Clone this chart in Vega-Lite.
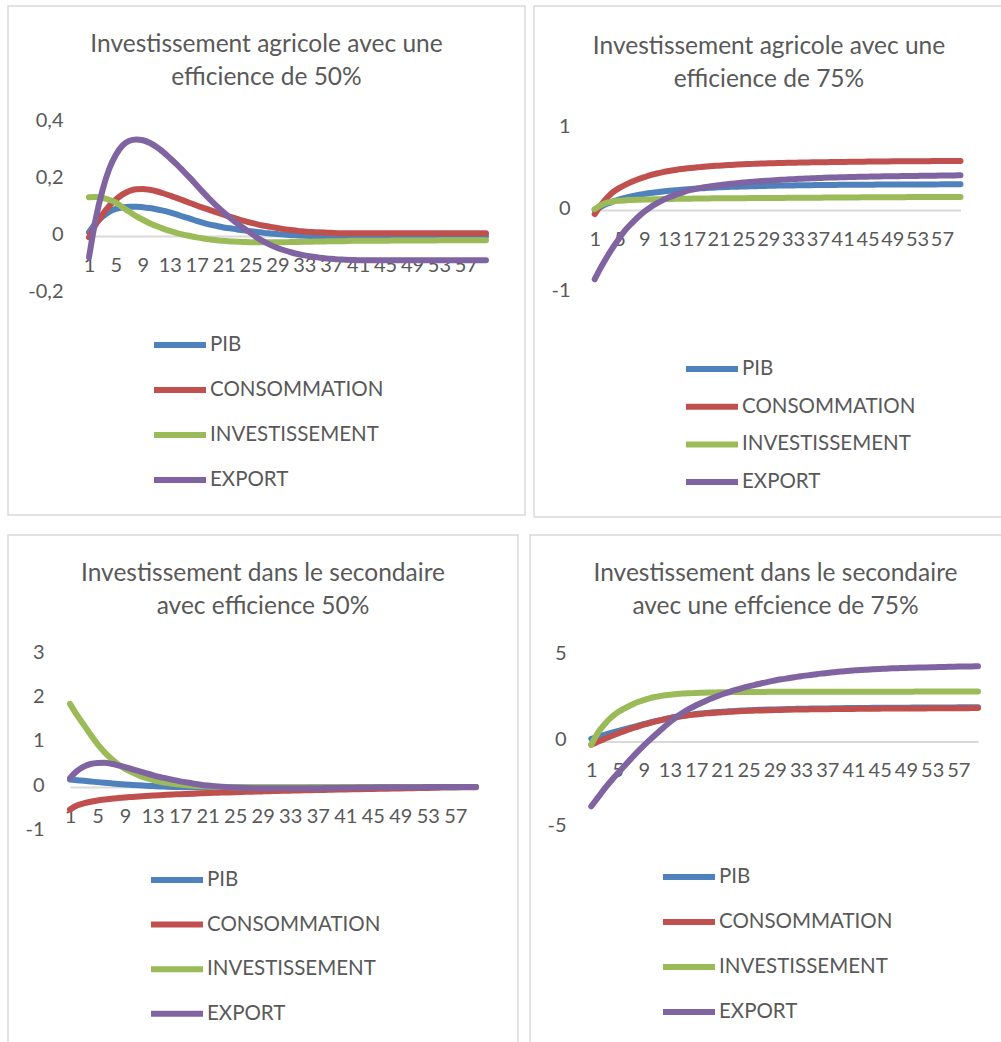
{
"$schema":"https://vega.github.io/schema/vega-lite/v6.json",
"padding":{"left":7,"top":5,"right":0,"bottom":0},
"background":"white",
"datasets":{
"p1":[
{"t":1,"PIB":0.013,"CONSOMMATION":-0.005,"INVESTISSEMENT":0.136,"EXPORT":-0.075},
{"t":2,"PIB":0.045,"CONSOMMATION":0.04,"INVESTISSEMENT":0.137,"EXPORT":0.06},
{"t":3,"PIB":0.068,"CONSOMMATION":0.075,"INVESTISSEMENT":0.134,"EXPORT":0.16},
{"t":4,"PIB":0.085,"CONSOMMATION":0.105,"INVESTISSEMENT":0.127,"EXPORT":0.235},
{"t":5,"PIB":0.095,"CONSOMMATION":0.128,"INVESTISSEMENT":0.117,"EXPORT":0.285},
{"t":6,"PIB":0.101,"CONSOMMATION":0.146,"INVESTISSEMENT":0.1,"EXPORT":0.318},
{"t":7,"PIB":0.103,"CONSOMMATION":0.158,"INVESTISSEMENT":0.085,"EXPORT":0.334},
{"t":8,"PIB":0.103,"CONSOMMATION":0.164,"INVESTISSEMENT":0.07,"EXPORT":0.339},
{"t":9,"PIB":0.101,"CONSOMMATION":0.165,"INVESTISSEMENT":0.057,"EXPORT":0.336},
{"t":10,"PIB":0.098,"CONSOMMATION":0.162,"INVESTISSEMENT":0.045,"EXPORT":0.327},
{"t":11,"PIB":0.094,"CONSOMMATION":0.157,"INVESTISSEMENT":0.035,"EXPORT":0.313},
{"t":12,"PIB":0.089,"CONSOMMATION":0.15,"INVESTISSEMENT":0.026,"EXPORT":0.295},
{"t":13,"PIB":0.083,"CONSOMMATION":0.142,"INVESTISSEMENT":0.018,"EXPORT":0.274},
{"t":14,"PIB":0.076,"CONSOMMATION":0.134,"INVESTISSEMENT":0.011,"EXPORT":0.252},
{"t":15,"PIB":0.068,"CONSOMMATION":0.125,"INVESTISSEMENT":0.005,"EXPORT":0.228},
{"t":16,"PIB":0.061,"CONSOMMATION":0.116,"INVESTISSEMENT":0.0,"EXPORT":0.204},
{"t":17,"PIB":0.053,"CONSOMMATION":0.107,"INVESTISSEMENT":-0.005,"EXPORT":0.178},
{"t":18,"PIB":0.046,"CONSOMMATION":0.099,"INVESTISSEMENT":-0.009,"EXPORT":0.152},
{"t":19,"PIB":0.04,"CONSOMMATION":0.091,"INVESTISSEMENT":-0.012,"EXPORT":0.128},
{"t":20,"PIB":0.035,"CONSOMMATION":0.083,"INVESTISSEMENT":-0.015,"EXPORT":0.105},
{"t":21,"PIB":0.03,"CONSOMMATION":0.075,"INVESTISSEMENT":-0.017,"EXPORT":0.083},
{"t":22,"PIB":0.027,"CONSOMMATION":0.067,"INVESTISSEMENT":-0.019,"EXPORT":0.063},
{"t":23,"PIB":0.023,"CONSOMMATION":0.06,"INVESTISSEMENT":-0.02,"EXPORT":0.044},
{"t":24,"PIB":0.02,"CONSOMMATION":0.053,"INVESTISSEMENT":-0.021,"EXPORT":0.027},
{"t":25,"PIB":0.017,"CONSOMMATION":0.047,"INVESTISSEMENT":-0.022,"EXPORT":0.011},
{"t":26,"PIB":0.014,"CONSOMMATION":0.041,"INVESTISSEMENT":-0.022,"EXPORT":-0.006},
{"t":27,"PIB":0.011,"CONSOMMATION":0.036,"INVESTISSEMENT":-0.022,"EXPORT":-0.02},
{"t":28,"PIB":0.009,"CONSOMMATION":0.032,"INVESTISSEMENT":-0.022,"EXPORT":-0.032},
{"t":29,"PIB":0.007,"CONSOMMATION":0.028,"INVESTISSEMENT":-0.022,"EXPORT":-0.042},
{"t":30,"PIB":0.005,"CONSOMMATION":0.024,"INVESTISSEMENT":-0.022,"EXPORT":-0.05},
{"t":31,"PIB":0.003,"CONSOMMATION":0.021,"INVESTISSEMENT":-0.021,"EXPORT":-0.057},
{"t":32,"PIB":0.002,"CONSOMMATION":0.018,"INVESTISSEMENT":-0.021,"EXPORT":-0.063},
{"t":33,"PIB":0.001,"CONSOMMATION":0.016,"INVESTISSEMENT":-0.02,"EXPORT":-0.068},
{"t":34,"PIB":0.0,"CONSOMMATION":0.014,"INVESTISSEMENT":-0.02,"EXPORT":-0.072},
{"t":35,"PIB":-0.001,"CONSOMMATION":0.013,"INVESTISSEMENT":-0.019,"EXPORT":-0.075},
{"t":36,"PIB":-0.002,"CONSOMMATION":0.012,"INVESTISSEMENT":-0.019,"EXPORT":-0.078},
{"t":37,"PIB":-0.002,"CONSOMMATION":0.011,"INVESTISSEMENT":-0.018,"EXPORT":-0.08},
{"t":38,"PIB":-0.002,"CONSOMMATION":0.01,"INVESTISSEMENT":-0.018,"EXPORT":-0.082},
{"t":39,"PIB":-0.002,"CONSOMMATION":0.01,"INVESTISSEMENT":-0.018,"EXPORT":-0.083},
{"t":40,"PIB":-0.002,"CONSOMMATION":0.01,"INVESTISSEMENT":-0.017,"EXPORT":-0.084},
{"t":41,"PIB":-0.002,"CONSOMMATION":0.01,"INVESTISSEMENT":-0.017,"EXPORT":-0.085},
{"t":42,"PIB":-0.002,"CONSOMMATION":0.01,"INVESTISSEMENT":-0.017,"EXPORT":-0.085},
{"t":43,"PIB":-0.002,"CONSOMMATION":0.01,"INVESTISSEMENT":-0.017,"EXPORT":-0.085},
{"t":44,"PIB":-0.002,"CONSOMMATION":0.01,"INVESTISSEMENT":-0.017,"EXPORT":-0.085},
{"t":45,"PIB":-0.002,"CONSOMMATION":0.01,"INVESTISSEMENT":-0.017,"EXPORT":-0.085},
{"t":46,"PIB":-0.001,"CONSOMMATION":0.01,"INVESTISSEMENT":-0.016,"EXPORT":-0.085},
{"t":47,"PIB":-0.001,"CONSOMMATION":0.01,"INVESTISSEMENT":-0.016,"EXPORT":-0.085},
{"t":48,"PIB":-0.001,"CONSOMMATION":0.01,"INVESTISSEMENT":-0.016,"EXPORT":-0.085},
{"t":49,"PIB":-0.001,"CONSOMMATION":0.01,"INVESTISSEMENT":-0.016,"EXPORT":-0.085},
{"t":50,"PIB":-0.001,"CONSOMMATION":0.01,"INVESTISSEMENT":-0.016,"EXPORT":-0.085},
{"t":51,"PIB":-0.001,"CONSOMMATION":0.01,"INVESTISSEMENT":-0.016,"EXPORT":-0.085},
{"t":52,"PIB":-0.001,"CONSOMMATION":0.01,"INVESTISSEMENT":-0.016,"EXPORT":-0.085},
{"t":53,"PIB":-0.001,"CONSOMMATION":0.01,"INVESTISSEMENT":-0.015,"EXPORT":-0.085},
{"t":54,"PIB":-0.001,"CONSOMMATION":0.01,"INVESTISSEMENT":-0.015,"EXPORT":-0.085},
{"t":55,"PIB":-0.001,"CONSOMMATION":0.01,"INVESTISSEMENT":-0.015,"EXPORT":-0.085},
{"t":56,"PIB":-0.001,"CONSOMMATION":0.01,"INVESTISSEMENT":-0.015,"EXPORT":-0.085},
{"t":57,"PIB":-0.001,"CONSOMMATION":0.01,"INVESTISSEMENT":-0.015,"EXPORT":-0.085},
{"t":58,"PIB":-0.001,"CONSOMMATION":0.01,"INVESTISSEMENT":-0.015,"EXPORT":-0.085},
{"t":59,"PIB":-0.001,"CONSOMMATION":0.01,"INVESTISSEMENT":-0.015,"EXPORT":-0.085},
{"t":60,"PIB":-0.001,"CONSOMMATION":0.01,"INVESTISSEMENT":-0.015,"EXPORT":-0.085}
],
"p2":[
{"t":1,"PIB":0.0,"CONSOMMATION":-0.05,"INVESTISSEMENT":0.01,"EXPORT":-0.845},
{"t":2,"PIB":0.04,"CONSOMMATION":0.06,"INVESTISSEMENT":0.06,"EXPORT":-0.7},
{"t":3,"PIB":0.075,"CONSOMMATION":0.15,"INVESTISSEMENT":0.09,"EXPORT":-0.57},
{"t":4,"PIB":0.105,"CONSOMMATION":0.22,"INVESTISSEMENT":0.105,"EXPORT":-0.45},
{"t":5,"PIB":0.13,"CONSOMMATION":0.27,"INVESTISSEMENT":0.113,"EXPORT":-0.34},
{"t":6,"PIB":0.15,"CONSOMMATION":0.31,"INVESTISSEMENT":0.118,"EXPORT":-0.24},
{"t":7,"PIB":0.168,"CONSOMMATION":0.345,"INVESTISSEMENT":0.122,"EXPORT":-0.16},
{"t":8,"PIB":0.183,"CONSOMMATION":0.375,"INVESTISSEMENT":0.125,"EXPORT":-0.085},
{"t":9,"PIB":0.196,"CONSOMMATION":0.4,"INVESTISSEMENT":0.127,"EXPORT":-0.02},
{"t":10,"PIB":0.207,"CONSOMMATION":0.425,"INVESTISSEMENT":0.129,"EXPORT":0.035},
{"t":11,"PIB":0.217,"CONSOMMATION":0.445,"INVESTISSEMENT":0.131,"EXPORT":0.08},
{"t":12,"PIB":0.226,"CONSOMMATION":0.462,"INVESTISSEMENT":0.133,"EXPORT":0.12},
{"t":13,"PIB":0.234,"CONSOMMATION":0.476,"INVESTISSEMENT":0.135,"EXPORT":0.155},
{"t":14,"PIB":0.241,"CONSOMMATION":0.488,"INVESTISSEMENT":0.136,"EXPORT":0.185},
{"t":15,"PIB":0.248,"CONSOMMATION":0.499,"INVESTISSEMENT":0.137,"EXPORT":0.21},
{"t":16,"PIB":0.254,"CONSOMMATION":0.508,"INVESTISSEMENT":0.138,"EXPORT":0.235},
{"t":17,"PIB":0.259,"CONSOMMATION":0.516,"INVESTISSEMENT":0.139,"EXPORT":0.252},
{"t":18,"PIB":0.264,"CONSOMMATION":0.523,"INVESTISSEMENT":0.14,"EXPORT":0.267},
{"t":19,"PIB":0.268,"CONSOMMATION":0.53,"INVESTISSEMENT":0.141,"EXPORT":0.28},
{"t":20,"PIB":0.272,"CONSOMMATION":0.536,"INVESTISSEMENT":0.142,"EXPORT":0.292},
{"t":21,"PIB":0.276,"CONSOMMATION":0.541,"INVESTISSEMENT":0.142,"EXPORT":0.302},
{"t":22,"PIB":0.279,"CONSOMMATION":0.546,"INVESTISSEMENT":0.143,"EXPORT":0.311},
{"t":23,"PIB":0.282,"CONSOMMATION":0.55,"INVESTISSEMENT":0.143,"EXPORT":0.319},
{"t":24,"PIB":0.285,"CONSOMMATION":0.554,"INVESTISSEMENT":0.144,"EXPORT":0.327},
{"t":25,"PIB":0.287,"CONSOMMATION":0.558,"INVESTISSEMENT":0.144,"EXPORT":0.334},
{"t":26,"PIB":0.289,"CONSOMMATION":0.561,"INVESTISSEMENT":0.145,"EXPORT":0.341},
{"t":27,"PIB":0.291,"CONSOMMATION":0.564,"INVESTISSEMENT":0.145,"EXPORT":0.347},
{"t":28,"PIB":0.293,"CONSOMMATION":0.567,"INVESTISSEMENT":0.146,"EXPORT":0.353},
{"t":29,"PIB":0.295,"CONSOMMATION":0.569,"INVESTISSEMENT":0.146,"EXPORT":0.358},
{"t":30,"PIB":0.297,"CONSOMMATION":0.571,"INVESTISSEMENT":0.147,"EXPORT":0.363},
{"t":31,"PIB":0.298,"CONSOMMATION":0.573,"INVESTISSEMENT":0.147,"EXPORT":0.368},
{"t":32,"PIB":0.299,"CONSOMMATION":0.575,"INVESTISSEMENT":0.148,"EXPORT":0.372},
{"t":33,"PIB":0.3,"CONSOMMATION":0.577,"INVESTISSEMENT":0.148,"EXPORT":0.376},
{"t":34,"PIB":0.301,"CONSOMMATION":0.578,"INVESTISSEMENT":0.149,"EXPORT":0.38},
{"t":35,"PIB":0.302,"CONSOMMATION":0.58,"INVESTISSEMENT":0.149,"EXPORT":0.383},
{"t":36,"PIB":0.303,"CONSOMMATION":0.581,"INVESTISSEMENT":0.15,"EXPORT":0.386},
{"t":37,"PIB":0.304,"CONSOMMATION":0.582,"INVESTISSEMENT":0.15,"EXPORT":0.389},
{"t":38,"PIB":0.305,"CONSOMMATION":0.583,"INVESTISSEMENT":0.151,"EXPORT":0.392},
{"t":39,"PIB":0.305,"CONSOMMATION":0.584,"INVESTISSEMENT":0.151,"EXPORT":0.395},
{"t":40,"PIB":0.306,"CONSOMMATION":0.585,"INVESTISSEMENT":0.152,"EXPORT":0.397},
{"t":41,"PIB":0.307,"CONSOMMATION":0.586,"INVESTISSEMENT":0.152,"EXPORT":0.399},
{"t":42,"PIB":0.307,"CONSOMMATION":0.587,"INVESTISSEMENT":0.153,"EXPORT":0.401},
{"t":43,"PIB":0.308,"CONSOMMATION":0.588,"INVESTISSEMENT":0.153,"EXPORT":0.403},
{"t":44,"PIB":0.308,"CONSOMMATION":0.589,"INVESTISSEMENT":0.154,"EXPORT":0.405},
{"t":45,"PIB":0.309,"CONSOMMATION":0.59,"INVESTISSEMENT":0.154,"EXPORT":0.407},
{"t":46,"PIB":0.309,"CONSOMMATION":0.591,"INVESTISSEMENT":0.155,"EXPORT":0.408},
{"t":47,"PIB":0.31,"CONSOMMATION":0.591,"INVESTISSEMENT":0.155,"EXPORT":0.41},
{"t":48,"PIB":0.31,"CONSOMMATION":0.592,"INVESTISSEMENT":0.156,"EXPORT":0.411},
{"t":49,"PIB":0.31,"CONSOMMATION":0.593,"INVESTISSEMENT":0.156,"EXPORT":0.412},
{"t":50,"PIB":0.311,"CONSOMMATION":0.593,"INVESTISSEMENT":0.157,"EXPORT":0.413},
{"t":51,"PIB":0.311,"CONSOMMATION":0.594,"INVESTISSEMENT":0.157,"EXPORT":0.414},
{"t":52,"PIB":0.311,"CONSOMMATION":0.594,"INVESTISSEMENT":0.158,"EXPORT":0.415},
{"t":53,"PIB":0.312,"CONSOMMATION":0.595,"INVESTISSEMENT":0.158,"EXPORT":0.416},
{"t":54,"PIB":0.312,"CONSOMMATION":0.596,"INVESTISSEMENT":0.158,"EXPORT":0.417},
{"t":55,"PIB":0.312,"CONSOMMATION":0.596,"INVESTISSEMENT":0.159,"EXPORT":0.418},
{"t":56,"PIB":0.312,"CONSOMMATION":0.597,"INVESTISSEMENT":0.159,"EXPORT":0.419},
{"t":57,"PIB":0.313,"CONSOMMATION":0.597,"INVESTISSEMENT":0.159,"EXPORT":0.42},
{"t":58,"PIB":0.313,"CONSOMMATION":0.598,"INVESTISSEMENT":0.16,"EXPORT":0.421},
{"t":59,"PIB":0.313,"CONSOMMATION":0.598,"INVESTISSEMENT":0.16,"EXPORT":0.422},
{"t":60,"PIB":0.313,"CONSOMMATION":0.599,"INVESTISSEMENT":0.16,"EXPORT":0.423}
],
"p3":[
{"t":1,"PIB":0.17,"CONSOMMATION":-0.51,"INVESTISSEMENT":1.88,"EXPORT":0.2},
{"t":2,"PIB":0.155,"CONSOMMATION":-0.42,"INVESTISSEMENT":1.63,"EXPORT":0.36},
{"t":3,"PIB":0.14,"CONSOMMATION":-0.37,"INVESTISSEMENT":1.41,"EXPORT":0.46},
{"t":4,"PIB":0.125,"CONSOMMATION":-0.335,"INVESTISSEMENT":1.18,"EXPORT":0.52},
{"t":5,"PIB":0.11,"CONSOMMATION":-0.305,"INVESTISSEMENT":0.97,"EXPORT":0.545},
{"t":6,"PIB":0.096,"CONSOMMATION":-0.283,"INVESTISSEMENT":0.79,"EXPORT":0.55},
{"t":7,"PIB":0.083,"CONSOMMATION":-0.265,"INVESTISSEMENT":0.64,"EXPORT":0.525},
{"t":8,"PIB":0.07,"CONSOMMATION":-0.25,"INVESTISSEMENT":0.51,"EXPORT":0.49},
{"t":9,"PIB":0.058,"CONSOMMATION":-0.236,"INVESTISSEMENT":0.41,"EXPORT":0.45},
{"t":10,"PIB":0.047,"CONSOMMATION":-0.224,"INVESTISSEMENT":0.33,"EXPORT":0.405},
{"t":11,"PIB":0.037,"CONSOMMATION":-0.213,"INVESTISSEMENT":0.26,"EXPORT":0.36},
{"t":12,"PIB":0.028,"CONSOMMATION":-0.203,"INVESTISSEMENT":0.205,"EXPORT":0.315},
{"t":13,"PIB":0.02,"CONSOMMATION":-0.194,"INVESTISSEMENT":0.16,"EXPORT":0.27},
{"t":14,"PIB":0.013,"CONSOMMATION":-0.185,"INVESTISSEMENT":0.125,"EXPORT":0.23},
{"t":15,"PIB":0.007,"CONSOMMATION":-0.177,"INVESTISSEMENT":0.095,"EXPORT":0.195},
{"t":16,"PIB":0.002,"CONSOMMATION":-0.17,"INVESTISSEMENT":0.072,"EXPORT":0.16},
{"t":17,"PIB":-0.002,"CONSOMMATION":-0.163,"INVESTISSEMENT":0.054,"EXPORT":0.128},
{"t":18,"PIB":-0.005,"CONSOMMATION":-0.156,"INVESTISSEMENT":0.04,"EXPORT":0.1},
{"t":19,"PIB":-0.008,"CONSOMMATION":-0.15,"INVESTISSEMENT":0.028,"EXPORT":0.075},
{"t":20,"PIB":-0.01,"CONSOMMATION":-0.144,"INVESTISSEMENT":0.019,"EXPORT":0.053},
{"t":21,"PIB":-0.011,"CONSOMMATION":-0.138,"INVESTISSEMENT":0.012,"EXPORT":0.035},
{"t":22,"PIB":-0.012,"CONSOMMATION":-0.132,"INVESTISSEMENT":0.006,"EXPORT":0.02},
{"t":23,"PIB":-0.012,"CONSOMMATION":-0.127,"INVESTISSEMENT":0.002,"EXPORT":0.007},
{"t":24,"PIB":-0.012,"CONSOMMATION":-0.122,"INVESTISSEMENT":-0.001,"EXPORT":-0.003},
{"t":25,"PIB":-0.012,"CONSOMMATION":-0.117,"INVESTISSEMENT":-0.003,"EXPORT":-0.012},
{"t":26,"PIB":-0.012,"CONSOMMATION":-0.112,"INVESTISSEMENT":-0.004,"EXPORT":-0.018},
{"t":27,"PIB":-0.012,"CONSOMMATION":-0.108,"INVESTISSEMENT":-0.004,"EXPORT":-0.023},
{"t":28,"PIB":-0.012,"CONSOMMATION":-0.103,"INVESTISSEMENT":-0.004,"EXPORT":-0.026},
{"t":29,"PIB":-0.011,"CONSOMMATION":-0.099,"INVESTISSEMENT":-0.004,"EXPORT":-0.028},
{"t":30,"PIB":-0.011,"CONSOMMATION":-0.095,"INVESTISSEMENT":-0.004,"EXPORT":-0.03},
{"t":31,"PIB":-0.011,"CONSOMMATION":-0.091,"INVESTISSEMENT":-0.004,"EXPORT":-0.03},
{"t":32,"PIB":-0.01,"CONSOMMATION":-0.087,"INVESTISSEMENT":-0.004,"EXPORT":-0.03},
{"t":33,"PIB":-0.01,"CONSOMMATION":-0.083,"INVESTISSEMENT":-0.004,"EXPORT":-0.03},
{"t":34,"PIB":-0.009,"CONSOMMATION":-0.079,"INVESTISSEMENT":-0.004,"EXPORT":-0.03},
{"t":35,"PIB":-0.009,"CONSOMMATION":-0.076,"INVESTISSEMENT":-0.004,"EXPORT":-0.03},
{"t":36,"PIB":-0.008,"CONSOMMATION":-0.072,"INVESTISSEMENT":-0.003,"EXPORT":-0.029},
{"t":37,"PIB":-0.008,"CONSOMMATION":-0.069,"INVESTISSEMENT":-0.003,"EXPORT":-0.027},
{"t":38,"PIB":-0.007,"CONSOMMATION":-0.066,"INVESTISSEMENT":-0.003,"EXPORT":-0.025},
{"t":39,"PIB":-0.007,"CONSOMMATION":-0.062,"INVESTISSEMENT":-0.003,"EXPORT":-0.022},
{"t":40,"PIB":-0.006,"CONSOMMATION":-0.059,"INVESTISSEMENT":-0.003,"EXPORT":-0.02},
{"t":41,"PIB":-0.006,"CONSOMMATION":-0.056,"INVESTISSEMENT":-0.002,"EXPORT":-0.018},
{"t":42,"PIB":-0.005,"CONSOMMATION":-0.053,"INVESTISSEMENT":-0.002,"EXPORT":-0.016},
{"t":43,"PIB":-0.005,"CONSOMMATION":-0.05,"INVESTISSEMENT":-0.002,"EXPORT":-0.014},
{"t":44,"PIB":-0.004,"CONSOMMATION":-0.047,"INVESTISSEMENT":-0.002,"EXPORT":-0.012},
{"t":45,"PIB":-0.004,"CONSOMMATION":-0.044,"INVESTISSEMENT":-0.002,"EXPORT":-0.01},
{"t":46,"PIB":-0.003,"CONSOMMATION":-0.041,"INVESTISSEMENT":-0.001,"EXPORT":-0.008},
{"t":47,"PIB":-0.003,"CONSOMMATION":-0.038,"INVESTISSEMENT":-0.001,"EXPORT":-0.007},
{"t":48,"PIB":-0.003,"CONSOMMATION":-0.035,"INVESTISSEMENT":-0.001,"EXPORT":-0.006},
{"t":49,"PIB":-0.002,"CONSOMMATION":-0.032,"INVESTISSEMENT":-0.001,"EXPORT":-0.005},
{"t":50,"PIB":-0.002,"CONSOMMATION":-0.029,"INVESTISSEMENT":-0.001,"EXPORT":-0.004},
{"t":51,"PIB":-0.002,"CONSOMMATION":-0.026,"INVESTISSEMENT":-0.001,"EXPORT":-0.003},
{"t":52,"PIB":-0.001,"CONSOMMATION":-0.023,"INVESTISSEMENT":0.0,"EXPORT":-0.003},
{"t":53,"PIB":-0.001,"CONSOMMATION":-0.02,"INVESTISSEMENT":0.0,"EXPORT":-0.002},
{"t":54,"PIB":-0.001,"CONSOMMATION":-0.017,"INVESTISSEMENT":0.0,"EXPORT":-0.002},
{"t":55,"PIB":-0.001,"CONSOMMATION":-0.014,"INVESTISSEMENT":0.0,"EXPORT":-0.001},
{"t":56,"PIB":0.0,"CONSOMMATION":-0.012,"INVESTISSEMENT":0.0,"EXPORT":-0.001},
{"t":57,"PIB":0.0,"CONSOMMATION":-0.01,"INVESTISSEMENT":0.0,"EXPORT":-0.001},
{"t":58,"PIB":0.0,"CONSOMMATION":-0.008,"INVESTISSEMENT":0.0,"EXPORT":0.0},
{"t":59,"PIB":0.0,"CONSOMMATION":-0.006,"INVESTISSEMENT":0.0,"EXPORT":0.0},
{"t":60,"PIB":0.0,"CONSOMMATION":-0.005,"INVESTISSEMENT":0.0,"EXPORT":0.0}
],
"p4":[
{"t":1,"PIB":0.15,"CONSOMMATION":-0.19,"INVESTISSEMENT":-0.19,"EXPORT":-3.77},
{"t":2,"PIB":0.27,"CONSOMMATION":-0.02,"INVESTISSEMENT":0.5,"EXPORT":-3.27},
{"t":3,"PIB":0.38,"CONSOMMATION":0.14,"INVESTISSEMENT":0.98,"EXPORT":-2.76},
{"t":4,"PIB":0.49,"CONSOMMATION":0.3,"INVESTISSEMENT":1.38,"EXPORT":-2.3},
{"t":5,"PIB":0.6,"CONSOMMATION":0.45,"INVESTISSEMENT":1.68,"EXPORT":-1.87},
{"t":6,"PIB":0.7,"CONSOMMATION":0.6,"INVESTISSEMENT":1.9,"EXPORT":-1.45},
{"t":7,"PIB":0.8,"CONSOMMATION":0.73,"INVESTISSEMENT":2.1,"EXPORT":-1.03},
{"t":8,"PIB":0.9,"CONSOMMATION":0.85,"INVESTISSEMENT":2.28,"EXPORT":-0.62},
{"t":9,"PIB":1.0,"CONSOMMATION":0.97,"INVESTISSEMENT":2.4,"EXPORT":-0.24},
{"t":10,"PIB":1.1,"CONSOMMATION":1.08,"INVESTISSEMENT":2.52,"EXPORT":0.12},
{"t":11,"PIB":1.19,"CONSOMMATION":1.18,"INVESTISSEMENT":2.6,"EXPORT":0.46},
{"t":12,"PIB":1.28,"CONSOMMATION":1.27,"INVESTISSEMENT":2.67,"EXPORT":0.8},
{"t":13,"PIB":1.36,"CONSOMMATION":1.35,"INVESTISSEMENT":2.71,"EXPORT":1.13},
{"t":14,"PIB":1.43,"CONSOMMATION":1.42,"INVESTISSEMENT":2.75,"EXPORT":1.42},
{"t":15,"PIB":1.49,"CONSOMMATION":1.48,"INVESTISSEMENT":2.78,"EXPORT":1.68},
{"t":16,"PIB":1.54,"CONSOMMATION":1.53,"INVESTISSEMENT":2.8,"EXPORT":1.9},
{"t":17,"PIB":1.59,"CONSOMMATION":1.57,"INVESTISSEMENT":2.82,"EXPORT":2.1},
{"t":18,"PIB":1.63,"CONSOMMATION":1.61,"INVESTISSEMENT":2.83,"EXPORT":2.28},
{"t":19,"PIB":1.67,"CONSOMMATION":1.64,"INVESTISSEMENT":2.84,"EXPORT":2.45},
{"t":20,"PIB":1.7,"CONSOMMATION":1.67,"INVESTISSEMENT":2.85,"EXPORT":2.6},
{"t":21,"PIB":1.73,"CONSOMMATION":1.7,"INVESTISSEMENT":2.86,"EXPORT":2.74},
{"t":22,"PIB":1.75,"CONSOMMATION":1.72,"INVESTISSEMENT":2.86,"EXPORT":2.87},
{"t":23,"PIB":1.77,"CONSOMMATION":1.74,"INVESTISSEMENT":2.87,"EXPORT":2.99},
{"t":24,"PIB":1.79,"CONSOMMATION":1.76,"INVESTISSEMENT":2.87,"EXPORT":3.1},
{"t":25,"PIB":1.81,"CONSOMMATION":1.78,"INVESTISSEMENT":2.87,"EXPORT":3.2},
{"t":26,"PIB":1.83,"CONSOMMATION":1.79,"INVESTISSEMENT":2.87,"EXPORT":3.29},
{"t":27,"PIB":1.84,"CONSOMMATION":1.8,"INVESTISSEMENT":2.87,"EXPORT":3.38},
{"t":28,"PIB":1.85,"CONSOMMATION":1.81,"INVESTISSEMENT":2.88,"EXPORT":3.46},
{"t":29,"PIB":1.86,"CONSOMMATION":1.82,"INVESTISSEMENT":2.88,"EXPORT":3.54},
{"t":30,"PIB":1.87,"CONSOMMATION":1.83,"INVESTISSEMENT":2.88,"EXPORT":3.61},
{"t":31,"PIB":1.88,"CONSOMMATION":1.84,"INVESTISSEMENT":2.88,"EXPORT":3.67},
{"t":32,"PIB":1.89,"CONSOMMATION":1.85,"INVESTISSEMENT":2.88,"EXPORT":3.73},
{"t":33,"PIB":1.9,"CONSOMMATION":1.855,"INVESTISSEMENT":2.88,"EXPORT":3.79},
{"t":34,"PIB":1.905,"CONSOMMATION":1.86,"INVESTISSEMENT":2.88,"EXPORT":3.84},
{"t":35,"PIB":1.91,"CONSOMMATION":1.865,"INVESTISSEMENT":2.88,"EXPORT":3.89},
{"t":36,"PIB":1.915,"CONSOMMATION":1.87,"INVESTISSEMENT":2.88,"EXPORT":3.94},
{"t":37,"PIB":1.92,"CONSOMMATION":1.875,"INVESTISSEMENT":2.88,"EXPORT":3.98},
{"t":38,"PIB":1.925,"CONSOMMATION":1.88,"INVESTISSEMENT":2.88,"EXPORT":4.02},
{"t":39,"PIB":1.93,"CONSOMMATION":1.885,"INVESTISSEMENT":2.88,"EXPORT":4.06},
{"t":40,"PIB":1.935,"CONSOMMATION":1.89,"INVESTISSEMENT":2.89,"EXPORT":4.09},
{"t":41,"PIB":1.94,"CONSOMMATION":1.89,"INVESTISSEMENT":2.89,"EXPORT":4.12},
{"t":42,"PIB":1.94,"CONSOMMATION":1.895,"INVESTISSEMENT":2.89,"EXPORT":4.15},
{"t":43,"PIB":1.945,"CONSOMMATION":1.9,"INVESTISSEMENT":2.89,"EXPORT":4.17},
{"t":44,"PIB":1.95,"CONSOMMATION":1.9,"INVESTISSEMENT":2.89,"EXPORT":4.19},
{"t":45,"PIB":1.95,"CONSOMMATION":1.905,"INVESTISSEMENT":2.89,"EXPORT":4.21},
{"t":46,"PIB":1.955,"CONSOMMATION":1.91,"INVESTISSEMENT":2.89,"EXPORT":4.23},
{"t":47,"PIB":1.955,"CONSOMMATION":1.91,"INVESTISSEMENT":2.89,"EXPORT":4.25},
{"t":48,"PIB":1.96,"CONSOMMATION":1.915,"INVESTISSEMENT":2.89,"EXPORT":4.26},
{"t":49,"PIB":1.96,"CONSOMMATION":1.915,"INVESTISSEMENT":2.89,"EXPORT":4.27},
{"t":50,"PIB":1.965,"CONSOMMATION":1.92,"INVESTISSEMENT":2.89,"EXPORT":4.28},
{"t":51,"PIB":1.965,"CONSOMMATION":1.92,"INVESTISSEMENT":2.9,"EXPORT":4.29},
{"t":52,"PIB":1.97,"CONSOMMATION":1.92,"INVESTISSEMENT":2.9,"EXPORT":4.3},
{"t":53,"PIB":1.97,"CONSOMMATION":1.925,"INVESTISSEMENT":2.9,"EXPORT":4.31},
{"t":54,"PIB":1.97,"CONSOMMATION":1.925,"INVESTISSEMENT":2.9,"EXPORT":4.32},
{"t":55,"PIB":1.975,"CONSOMMATION":1.93,"INVESTISSEMENT":2.9,"EXPORT":4.33},
{"t":56,"PIB":1.975,"CONSOMMATION":1.93,"INVESTISSEMENT":2.9,"EXPORT":4.34},
{"t":57,"PIB":1.98,"CONSOMMATION":1.93,"INVESTISSEMENT":2.9,"EXPORT":4.35},
{"t":58,"PIB":1.98,"CONSOMMATION":1.93,"INVESTISSEMENT":2.9,"EXPORT":4.35},
{"t":59,"PIB":1.98,"CONSOMMATION":1.935,"INVESTISSEMENT":2.9,"EXPORT":4.36},
{"t":60,"PIB":1.98,"CONSOMMATION":1.935,"INVESTISSEMENT":2.9,"EXPORT":4.37}
]
},
"spacing":16,
"resolve":{"scale":{"x":"independent","y":"independent","color":"independent"},"axis":{"x":"independent","y":"independent"},"legend":{"color":"independent"}},
"vconcat":[
{"hconcat":[
{"width":517,"height":509,
"title":{"text":["Investissement agricole avec une","efficience de 50%"],"offset":-84},
"data":{"name":"p1"},
"transform":[{"fold":["PIB","CONSOMMATION","INVESTISSEMENT","EXPORT"],"as":["s","v"]}],
"mark":{"type":"line","strokeWidth":6,"strokeCap":"round","strokeJoin":"round","interpolate":"monotone"},
"encoding":{
"x":{"field":"t","type":"quantitative","scale":{"domain":[1,60],"range":[81,478],"nice":false,"zero":false},"axis":{"values":[1,5,9,13,17,21,25,29,33,37,41,45,49,53,57],"offset":-279,"title":null}},
"y":{"field":"v","type":"quantitative","scale":{"domain":[-0.2,0.4],"range":[287,116],"nice":false,"zero":false},"axis":{"values":[-0.2,0,0.2,0.4],"offset":-57,"title":null}},
"color":{"field":"s","type":"nominal","scale":{"domain":["PIB","CONSOMMATION","INVESTISSEMENT","EXPORT"],"range":["#4F81BD","#C0504D","#9BBB59","#8064A2"]},"legend":{"title":null,"orient":"none","legendX":158.5,"legendY":325.5,"rowPadding":19,"symbolType":"M-2.5,0H2.5","symbolSize":433,"symbolStrokeWidth":6,"labelOffset":16.5}}
}},
{"width":470,"height":511,
"title":{"text":["Investissement agricole avec une","efficience de 75%"],"offset":-86},
"data":{"name":"p2"},
"transform":[{"fold":["PIB","CONSOMMATION","INVESTISSEMENT","EXPORT"],"as":["s","v"]}],
"mark":{"type":"line","strokeWidth":6,"strokeCap":"round","strokeJoin":"round","interpolate":"monotone"},
"encoding":{
"x":{"field":"t","type":"quantitative","scale":{"domain":[1,60],"range":[60.7,426.5],"nice":false,"zero":false},"axis":{"values":[1,5,9,13,17,21,25,29,33,37,41,45,49,53,57],"offset":-307,"title":null}},
"y":{"field":"v","type":"quantitative","scale":{"domain":[-1,1],"range":[286,122],"nice":false,"zero":false},"axis":{"values":[-1,0,1],"offset":-38,"title":null}},
"color":{"field":"s","type":"nominal","scale":{"domain":["PIB","CONSOMMATION","INVESTISSEMENT","EXPORT"],"range":["#4F81BD","#C0504D","#9BBB59","#8064A2"]},"legend":{"title":null,"orient":"none","legendX":164.5,"legendY":349.5,"rowPadding":11.7,"symbolType":"M-2.5,0H2.5","symbolSize":433,"symbolStrokeWidth":6,"labelOffset":16.5}}
}}
],"spacing":7,
"resolve":{"scale":{"x":"independent","y":"independent","color":"independent"},"axis":{"x":"independent","y":"independent"},"legend":{"color":"independent"}}},
{"hconcat":[
{"width":510,"height":510,
"title":{"text":["Investissement dans le secondaire","avec efficience 50%"],"offset":-84},
"data":{"name":"p3"},
"transform":[{"fold":["PIB","CONSOMMATION","INVESTISSEMENT","EXPORT"],"as":["s","v"]}],
"mark":{"type":"line","strokeWidth":6,"strokeCap":"round","strokeJoin":"round","interpolate":"monotone"},
"encoding":{
"x":{"field":"t","type":"quantitative","scale":{"domain":[1,60],"range":[62,468],"nice":false,"zero":false},"axis":{"values":[1,5,9,13,17,21,25,29,33,37,41,45,49,53,57],"offset":-258,"title":null}},
"y":{"field":"v","type":"quantitative","scale":{"domain":[-1,3],"range":[296.2,119.4],"nice":false,"zero":false},"axis":{"values":[-1,0,1,2,3],"offset":-38,"title":null}},
"color":{"field":"s","type":"nominal","scale":{"domain":["PIB","CONSOMMATION","INVESTISSEMENT","EXPORT"],"range":["#4F81BD","#C0504D","#9BBB59","#8064A2"]},"legend":{"title":null,"orient":"none","legendX":155.5,"legendY":331.5,"rowPadding":18.6,"symbolType":"M-2.5,0H2.5","symbolSize":433,"symbolStrokeWidth":6,"labelOffset":16.5}}
}},
{"width":474,"height":510,
"title":{"text":["Investissement dans le secondaire","avec une effcience de 75%"],"offset":-84,"dx":8.5},
"data":{"name":"p4"},
"transform":[{"fold":["PIB","CONSOMMATION","INVESTISSEMENT","EXPORT"],"as":["s","v"]}],
"mark":{"type":"line","strokeWidth":6,"strokeCap":"round","strokeJoin":"round","interpolate":"monotone"},
"encoding":{
"x":{"field":"t","type":"quantitative","scale":{"domain":[1,60],"range":[61.3,448],"nice":false,"zero":false},"axis":{"values":[1,5,9,13,17,21,25,29,33,37,41,45,49,53,57],"offset":-303.6,"title":null}},
"y":{"field":"v","type":"quantitative","scale":{"domain":[-5,5],"range":[292.4,120.4],"nice":false,"zero":false},"axis":{"values":[-5,0,5],"offset":-38,"title":null}},
"color":{"field":"s","type":"nominal","scale":{"domain":["PIB","CONSOMMATION","INVESTISSEMENT","EXPORT"],"range":["#4F81BD","#C0504D","#9BBB59","#8064A2"]},"legend":{"title":null,"orient":"none","legendX":145.5,"legendY":328.5,"rowPadding":19,"symbolType":"M-2.5,0H2.5","symbolSize":433,"symbolStrokeWidth":6,"labelOffset":16.5}}
}}
],"spacing":10,
"resolve":{"scale":{"x":"independent","y":"independent","color":"independent"},"axis":{"x":"independent","y":"independent"},"legend":{"color":"independent"}}}
],
"config":{
"view":{"stroke":"#D9D9D9","strokeWidth":1.5},
"font":"Lato",
"title":{"font":"Lato","fontSize":24.5,"color":"#595959","fontWeight":"normal","anchor":"middle","frame":"group","lineHeight":33},
"axis":{"labelFont":"Lato","labelFontSize":20,"labelColor":"#595959","ticks":false,"grid":false},
"axisX":{"domain":true,"domainColor":"#D9D9D9","domainWidth":2,"labelOverlap":false,"labelFlush":false,"labelPadding":19},
"axisY":{"domain":false,"labelPadding":2,"labelOffset":-2,"labelExpr":"replace(toString(datum.value), '.', ',')"},
"legend":{"labelFont":"Lato","labelFontSize":20.5,"labelColor":"#595959","labelLimit":0,"padding":0,"offset":0,"symbolOpacity":1}
}
}
